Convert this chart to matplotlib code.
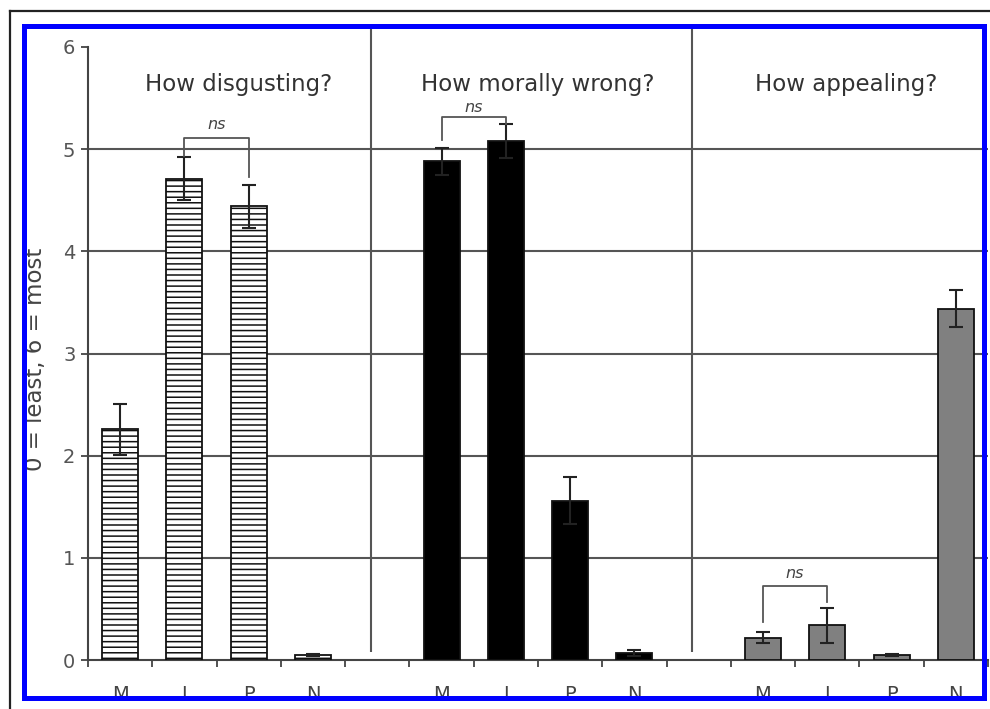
import matplotlib.pyplot as plt
from matplotlib.patches import Rectangle
from matplotlib.lines import Line2D

### data
categories = ['M', 'I', 'P', 'N']
panel_titles = ['How disgusting?', 'How morally wrong?', 'How appealing?']

disgust = [2.26, 4.71, 4.44, 0.05]
disgust_err = [0.25, 0.21, 0.21, 0.01]
wrong = [4.88, 5.08, 1.56, 0.07]
wrong_err = [0.13, 0.17, 0.23, 0.03]
appeal = [0.22, 0.34, 0.05, 3.44]
appeal_err = [0.05, 0.17, 0.01, 0.18]

yticks = [0, 1, 2, 3, 4, 5, 6]
ylabel = '0 = least, 6 = most'

### figure
fig = plt.figure(figsize=(9.9, 7.09), dpi=100)
plt.rcParams['font.family'] = ['DejaVu Sans']
plt.rcParams['hatch.linewidth'] = 1.1
ax = fig.add_axes([88 / 990, 49 / 709, 900 / 990, 613 / 709])

series = [disgust, wrong, appeal]
errors = [disgust_err, wrong_err, appeal_err]
styles = [dict(color='white', hatch='---'),
          dict(color='black', hatch=None),
          dict(color='#808080', hatch=None)]

for g, (vals, errs, st) in enumerate(zip(series, errors, styles)):
    xs = [g * 5 + i for i in range(len(categories))]
    ax.bar(xs, vals, width=0.56, color=st['color'], edgecolor='#111111',
           linewidth=1.3, hatch=st['hatch'], zorder=3)
    ax.errorbar(xs, vals, yerr=errs, fmt='none', ecolor='#222222',
                elinewidth=1.5, capsize=4.7, capthick=1.5, zorder=4)
    for i, xx in enumerate(xs):
        ax.text(xx, -0.245, categories[i], ha='center', va='top',
                fontsize=14, color='#444444')

# gridlines and panel separators
ax.hlines([1, 2, 3, 4, 5], -0.5, 13.5, color='#555555', linewidth=1.5, zorder=1)
for sx in [3.9, 8.9]:
    ax.vlines(sx, 0.08, 6.22, color='#555555', linewidth=1.5, zorder=1,
              clip_on=False)

# titles
title_x = [1.84, 6.49, 11.3]
for tx, t in zip(title_x, panel_titles):
    ax.text(tx, 5.63, t, ha='center', va='center', fontsize=16.5,
            color='#333333')

# ns brackets: (x0, x1, top, left leg end, right leg end, text y)
brackets = [(1, 2, 5.11, 4.93, 4.73, 5.24),
            (5, 6, 5.31, 5.09, 5.25, 5.41),
            (10, 11, 0.72, 0.37, 0.57, 0.85)]
for x0, x1, top, l0, l1, ty in brackets:
    ax.plot([x0, x0, x1, x1], [l0, top, top, l1], color='#555555',
            linewidth=1.3, zorder=5)
    ax.text((x0 + x1) / 2, ty, 'ns', ha='center', va='center',
            fontsize=11.5, style='italic', color='#444444')

ax.set_xlim(-0.5, 13.5)
ax.set_ylim(0, 6)
ax.set_yticks(yticks)
ax.set_yticklabels([str(v) for v in yticks], fontsize=14, color='#555555')
ax.set_xticks([i - 0.5 for i in range(15)])
ax.set_xticklabels([])
ax.tick_params(axis='both', direction='out', length=5, width=1.3,
               color='#444444')
ax.tick_params(axis='y', pad=4)
for side in ['top', 'right']:
    ax.spines[side].set_visible(False)
for side in ['left', 'bottom']:
    ax.spines[side].set_color('#444444')
    ax.spines[side].set_linewidth(1.5)

ax.text(-0.058, 0.49, ylabel, transform=ax.transAxes, rotation=90,
        ha='center', va='center', fontsize=16.5, color='#444444')

# frame around the figure
W, H = 990, 709
fig.add_artist(Rectangle((0, 0), 1, (H - 700) / H, transform=fig.transFigure,
                         facecolor='white', edgecolor='none', zorder=9))
fig.add_artist(Rectangle((24 / W, (H - 697.5) / H), 960 / W, 672 / H,
                         transform=fig.transFigure, facecolor='none',
                         edgecolor='#0000ff', linewidth=3.6, zorder=10))
fig.add_artist(Line2D([10 / W, 1], [(H - 10.5) / H] * 2,
                      transform=fig.transFigure, color='#222222',
                      linewidth=1.6, zorder=10))
fig.add_artist(Line2D([10 / W] * 2, [0, (H - 10.5) / H],
                      transform=fig.transFigure, color='#222222',
                      linewidth=1.6, zorder=10))

plt.savefig('out.png', dpi=100)
